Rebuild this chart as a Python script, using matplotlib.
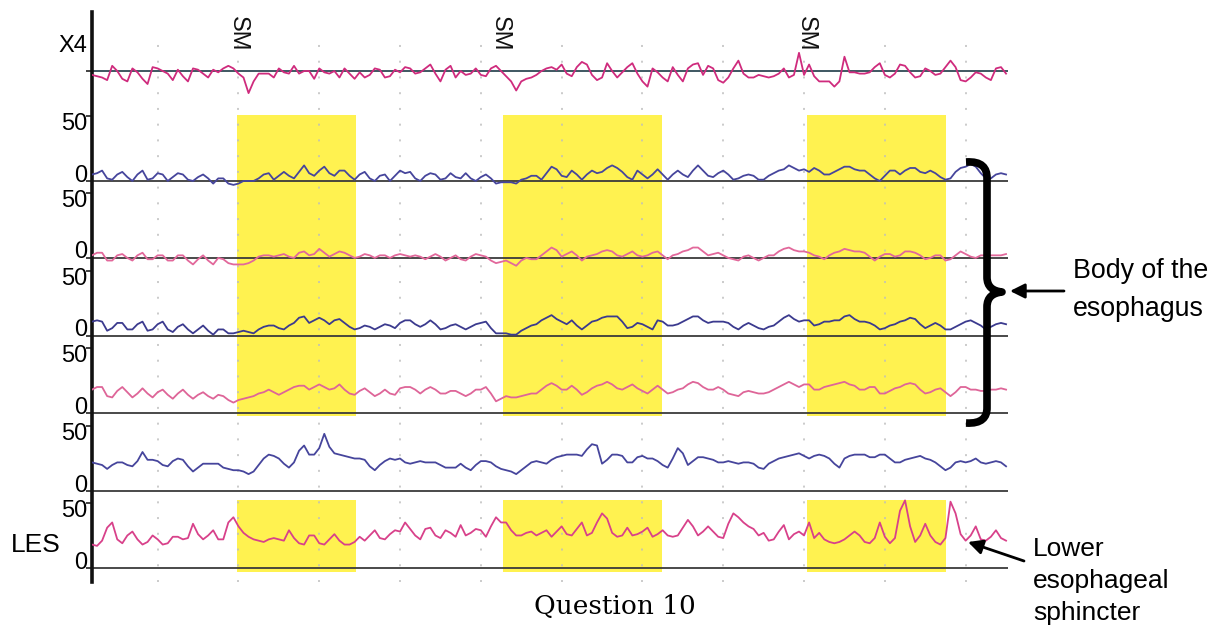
import matplotlib
matplotlib.use("Agg")
import matplotlib.pyplot as plt
import matplotlib.transforms as mtransforms
from matplotlib.path import Path
from matplotlib.patches import PathPatch, Rectangle
import numpy as np

plt.rcParams['font.family'] = ['Liberation Sans', 'DejaVu Sans']

# ---------------- data (pressure readings, mmHg; 16 samples per grid second) ----------------
samples_per_sec = 16
start_sec = -13 / 16

x4_vals = [-3,-4,-5,-7,4,0,-6,-8,2,-1,
 -6,-10,3,2,0,-2,-7,1,-4,-8,
 2,1,-2,-5,1,-1,2,4,2,-2,
 -5,-17,-8,-2,-2,-2,-5,2,-1,-2,
 4,-2,0,0,-6,2,-1,-2,0,-5,
 2,-2,-6,-1,-5,-3,2,1,-5,-4,
 1,-1,3,2,-2,-1,2,5,-2,-8,
 1,4,-5,0,-3,-2,2,-3,-4,2,
 4,0,-4,-8,-15,-8,-6,-5,-3,0,
 2,3,1,5,-2,-4,3,7,5,-3,
 -7,-5,6,0,-5,-1,3,6,-2,-8,
 -12,2,-1,-5,-8,3,-3,-8,2,5,
 6,-3,4,2,-7,-9,-5,2,8,-2,
 -5,-5,-3,-4,-5,-4,-2,2,-5,-3,
 14,-3,5,-4,-8,-8,-8,-12,-8,11,
 -1,-1,-2,-2,-1,3,6,-3,-5,-2,
 5,4,-1,-5,-4,2,0,-3,-2,3,
 8,3,-7,-8,-5,-1,-2,-5,-7,2,
 3,-2]

body1_vals = [5,6,8,2,1,5,7,3,0,5,
 8,1,2,6,5,0,3,6,5,1,
 0,3,5,2,-2,2,2,-2,-3,-2,
 0,0,0,2,5,6,1,4,7,4,
 2,7,12,6,4,8,11,6,4,8,
 8,4,1,5,7,2,0,4,5,0,
 4,8,6,7,2,0,4,6,5,1,
 2,6,3,2,6,2,0,3,5,2,
 -2,-1,-1,-1,-2,1,2,4,4,1,
 6,11,9,4,3,8,5,1,5,8,
 6,7,10,12,10,7,3,1,8,5,
 2,5,9,5,1,5,8,5,3,8,
 12,8,4,3,6,8,5,1,2,4,
 5,4,1,1,4,6,8,9,12,10,
 8,9,7,10,8,5,5,7,9,11,
 11,9,8,8,5,2,0,4,8,8,
 5,8,10,10,7,6,8,6,3,1,
 2,7,10,11,13,11,6,2,2,5,
 6,5]

body2_vals = [2,4,4,-2,-2,2,3,0,-2,2,
 4,-1,-1,2,2,-2,-2,2,2,-2,
 -5,-1,2,-2,-5,0,-1,-4,-5,-5,
 -5,-4,-2,1,2,2,1,2,3,1,
 0,4,5,2,3,7,4,1,3,5,
 4,2,0,1,3,2,0,2,2,0,
 2,3,2,1,2,1,-1,1,3,1,
 -2,0,2,-1,-2,1,3,2,1,-2,
 -4,-3,-2,-4,-6,-2,0,-1,-1,2,
 5,8,6,1,3,5,2,-2,1,2,
 3,5,6,5,2,1,3,5,2,1,
 2,4,5,2,-1,2,3,5,6,8,
 8,5,2,3,4,2,0,-1,-2,1,
 2,0,-2,0,2,2,5,7,8,6,
 5,5,4,2,1,-1,2,4,5,7,
 6,5,5,4,1,-2,1,3,3,1,
 2,5,5,4,2,-1,0,2,2,-2,
 -1,2,5,3,1,0,2,2,2,2,
 2,3]

body3_vals = [11,12,11,4,6,10,10,5,5,9,
 11,4,5,9,11,5,3,7,9,5,
 2,5,8,4,1,5,5,2,2,3,
 4,3,2,5,7,8,8,6,5,8,
 10,14,15,10,12,14,12,9,12,13,
 10,7,5,6,8,7,5,7,9,8,
 6,10,12,12,9,7,9,12,9,5,
 6,8,9,7,5,7,9,10,11,6,
 2,2,2,1,1,4,6,8,9,12,
 14,16,13,11,9,12,8,5,8,11,
 12,14,15,15,15,11,6,7,10,9,
 7,5,12,11,8,8,9,11,13,15,
 15,12,10,11,11,11,10,7,5,8,
 10,8,6,5,7,8,11,14,16,13,
 11,12,12,8,9,11,11,12,12,15,
 16,13,11,11,10,8,5,6,8,9,
 11,12,14,13,9,6,8,10,8,5,
 5,7,9,11,12,10,8,5,7,9,
 10,9]

body4_vals = [18,20,20,13,12,17,20,16,12,15,
 19,15,12,16,18,14,11,15,18,14,
 11,14,16,13,11,14,13,10,8,10,
 11,12,13,15,16,18,16,14,16,18,
 20,21,21,18,20,22,20,18,19,22,
 18,15,14,17,19,16,13,15,18,15,
 14,19,20,20,18,15,18,20,18,15,
 15,17,17,15,13,15,18,18,20,15,
 9,11,13,12,12,13,14,15,15,18,
 21,23,21,18,18,21,18,14,16,19,
 21,22,24,22,19,18,20,22,19,17,
 15,18,21,18,15,16,18,19,22,24,
 23,20,18,18,20,18,15,14,13,16,
 17,16,15,15,16,18,20,22,24,22,
 20,22,22,18,18,20,21,22,23,24,
 22,21,18,18,20,20,15,15,17,19,
 20,22,23,22,18,15,16,18,19,16,
 13,16,20,20,18,18,17,17,18,18,
 19,18]

distal_vals = [22,21,20,17,20,22,22,20,19,23,
 30,24,24,23,20,19,23,25,24,19,
 15,18,21,21,21,21,18,17,16,16,
 15,13,15,20,25,28,27,25,21,18,
 22,31,35,28,28,33,44,34,29,28,
 27,26,25,25,24,19,16,20,23,25,
 24,25,22,21,22,23,22,22,22,20,
 18,18,18,21,18,16,20,23,23,22,
 19,17,16,15,13,16,19,22,23,22,
 21,24,26,27,28,28,28,27,32,36,
 35,21,24,28,28,27,22,22,26,27,
 25,25,23,20,18,25,33,29,20,23,
 26,26,25,24,22,22,23,22,21,22,
 22,21,18,17,21,23,25,26,27,28,
 29,27,25,27,28,27,25,21,18,25,
 27,28,28,28,26,26,28,28,25,22,
 22,24,25,26,27,25,24,22,19,16,
 18,22,23,22,23,25,22,21,22,23,
 22,19]

les_vals = [18,17,21,31,35,22,19,25,28,22,
 18,20,25,22,18,19,24,24,22,23,
 34,26,22,25,29,22,22,35,39,32,
 27,24,22,21,20,22,23,22,21,29,
 23,19,18,25,25,19,18,22,26,21,
 18,18,20,24,21,25,29,23,22,26,
 29,28,35,30,25,22,30,31,25,23,
 29,27,24,33,25,27,30,29,24,32,
 39,35,35,29,25,25,27,28,25,27,
 29,24,28,32,26,25,30,35,25,27,
 35,42,38,27,24,25,31,25,26,28,
 31,24,26,29,25,24,25,31,37,32,
 25,28,32,28,24,23,34,42,39,35,
 32,30,25,27,21,22,28,33,22,26,
 28,25,35,23,27,22,20,19,20,22,
 25,28,25,20,19,23,35,24,19,23,
 44,52,32,20,25,34,25,20,18,23,
 51,42,26,21,25,32,22,21,24,29,
 23,21]

swallow_marks = [0.99, 4.24, 8.02]          # "SM" event times (s)
swallow_start = [0.98, 4.27, 8.04]          # highlighted windows
swallow_end = [2.46, 6.24, 9.76]
grid_secs = list(range(0, 11))
scale_labels = ['50', '0']

# ---------------- layout ----------------
W, H = 1213, 628
fig = plt.figure(figsize=(W / 100, H / 100), dpi=100)
fig.patch.set_facecolor('white')
ax = fig.add_axes([92 / W, 1 - 582 / H, 916 / W, 570 / H])
x_end = (1008 - 157.65) / 80.8
ax.set_xlim(start_sec, x_end)
ax.set_ylim(-10.8, 427.7)

traces = [x4_vals, body1_vals, body2_vals, body3_vals, body4_vals, distal_vals, les_vals]
offsets = [382.3, 297.7, 238.5, 178.5, 119.2, 59.2, 0.0]
colors = ['#cf2b7d', '#46459c', '#e2689b', '#3b3a8e', '#de6598', '#46459c', '#d8418a']

YEL = '#fff250'
# yellow swallow windows (body channels and LES)
for s, e in zip(swallow_start, swallow_end):
    ax.add_patch(Rectangle((s, offsets[4] - 2.5), e - s, offsets[1] + 50.5 - (offsets[4] - 2.5),
                           facecolor=YEL, edgecolor='none', zorder=1))
    ax.add_patch(Rectangle((s, offsets[6] - 3), e - s, 55, facecolor=YEL, edgecolor='none', zorder=1))

# dotted vertical grid
ax.vlines(grid_secs, -10.8, 410, colors='#bdbdbd', linewidth=1.1,
          linestyles=[(0, (1.3, 9))], zorder=1.5)

# baselines
for i, off in enumerate(offsets):
    ax.hlines(off, start_sec, x_end, colors='#2f4a55' if i == 0 else '#3a3a3a',
              linewidth=1.3, zorder=2)

# traces
for vals, off, c in zip(traces, offsets, colors):
    v = np.asarray(vals, dtype=float)
    t = start_sec + np.arange(len(v)) / samples_per_sec
    ax.plot(t, off + v, color=c, lw=1.3, zorder=3, solid_joinstyle='round')

# SM marks
for sm in swallow_marks:
    ax.text(sm, 411, 'SM', rotation=-90, ha='center', va='center', fontsize=17, color='#111111')

# spines / ticks
for k in ['top', 'right', 'bottom']:
    ax.spines[k].set_visible(False)
ax.spines['left'].set_linewidth(2.6)
ax.spines['left'].set_color('#111111')
ax.set_xticks([])
ticks = [offsets[0]] + [o + d for o in offsets[1:] for d in (50, 0)]
ax.set_yticks(ticks)
ax.set_yticklabels([])
ax.tick_params(axis='y', direction='out', length=4, width=1.2, color='#222222')

trans = mtransforms.blended_transform_factory(ax.transAxes, ax.transData)
lx = -5 / 916
ax.text(lx, 401.5, 'X4', transform=trans, ha='right', va='center', fontsize=17)
for off in offsets[1:]:
    ax.text(lx, off + 43.8, scale_labels[0], transform=trans, ha='right', va='center', fontsize=17)
    ax.text(lx, off + 4.2, scale_labels[1], transform=trans, ha='right', va='center', fontsize=17)

# ---------------- annotations overlay (pixel coords) ----------------
ov = fig.add_axes([0, 0, 1, 1])
ov.set_xlim(0, W)
ov.set_ylim(H, 0)
ov.axis('off')
ov.patch.set_alpha(0)

ov.text(36, 545, 'LES', ha='center', va='center', fontsize=19)

verts = [(966, 162), (982, 161), (987, 168), (987, 178),
         (987, 277),
         (987, 287), (993, 291), (1002, 292),
         (993, 293), (987, 297), (987, 307),
         (987, 408),
         (987, 417), (982, 424), (966, 423)]
codes = [Path.MOVETO, Path.CURVE4, Path.CURVE4, Path.CURVE4,
         Path.LINETO,
         Path.CURVE4, Path.CURVE4, Path.CURVE4,
         Path.CURVE4, Path.CURVE4, Path.CURVE4,
         Path.LINETO,
         Path.CURVE4, Path.CURVE4, Path.CURVE4]
ov.add_patch(PathPatch(Path(verts, codes), facecolor='none', edgecolor='black', lw=5.5,
                       capstyle='butt', joinstyle='round'))

ap = dict(arrowstyle='-|>', color='black', lw=2, mutation_scale=22, shrinkA=0, shrinkB=0)
ov.annotate('', xy=(1010, 291), xytext=(1064, 291), arrowprops=ap)
ov.annotate('', xy=(968, 542), xytext=(1024, 561), arrowprops=ap)

ov.text(1073, 278, 'Body of the', ha='left', va='baseline', fontsize=19.3)
ov.text(1073, 316, 'esophagus', ha='left', va='baseline', fontsize=19.3)
ov.text(1033, 556, 'Lower', ha='left', va='baseline', fontsize=19)
ov.text(1033, 588, 'esophageal', ha='left', va='baseline', fontsize=19)
ov.text(1033, 620, 'sphincter', ha='left', va='baseline', fontsize=19)

ov.text(615, 607, 'Question 10', ha='center', va='center', fontsize=19, family='DejaVu Serif')

fig.savefig('out.png', dpi=100)
